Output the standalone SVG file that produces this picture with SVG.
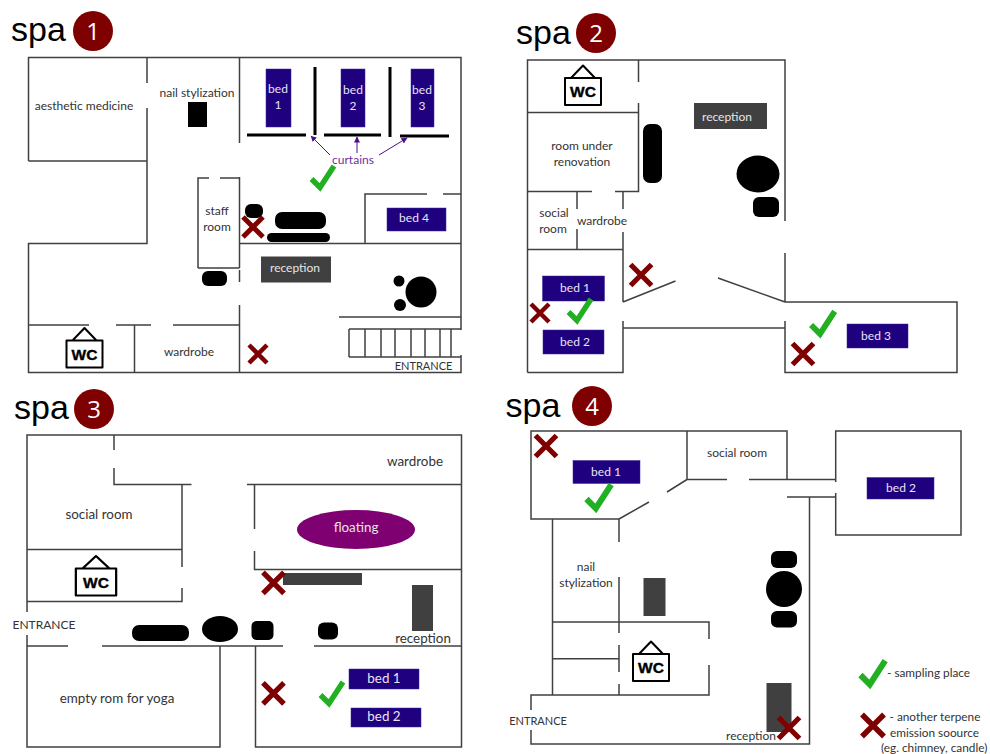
<svg xmlns="http://www.w3.org/2000/svg" width="990" height="754" viewBox="0 0 990 754">
<style>
text{font-family:"Lato","Open Sans",sans-serif;font-size:12px;fill:#333;text-anchor:middle}
.w{fill:none;stroke:#404040;stroke-width:1.5}
.k{fill:none;stroke:#000;stroke-width:3}
.bed{fill:#1f007f;stroke:#3a2a9a;stroke-width:.5}
.bt{fill:#e8e4f4}
.g{fill:#404040}
.gt{fill:#e6e6e6}
.b{fill:#000}
.title{font-family:"Liberation Sans",Arial,sans-serif;font-size:34px;fill:#000;text-anchor:start}
.num{fill:#fff;font-family:"Open Sans",sans-serif;font-size:24px}
.badge{fill:#7f0000}
.wct{font-family:"Liberation Sans",Arial,sans-serif;font-size:15.5px;font-weight:700;fill:#000;stroke:#000;stroke-width:.4}
.st{text-anchor:start;font-size:11.8px}
.l{font-size:13.4px}
.e{font-size:11px}
.ar{fill:none;stroke:#4b0f8a;stroke-width:1;marker-end:url(#a)}
</style>
<defs>
<path id="x" d="M-10,-10L10,10M10,-10L-10,10" fill="none" stroke="#7f0000" stroke-width="5"/>
<path id="c" d="M-10.5,0L-2,8.5L12,-13" fill="none" stroke="#22b022" stroke-width="5.5"/>
<path id="wc" d="M-18,-13.5H18V13.5H-18ZM-12,-13.5L0,-26L12,-13.5" fill="#fff" stroke="#000" stroke-width="2" stroke-linejoin="round"/>
<marker id="a" markerWidth="7" markerHeight="7" refX="5.5" refY="3" orient="auto" markerUnits="userSpaceOnUse"><path d="M0,0L6,3L0,6Z" fill="#4b0f8a"/></marker>
</defs>

<g id="spa1">
<text class="title" x="11" y="41">spa</text>
<circle class="badge" cx="93" cy="31" r="20"/><text class="num" x="93" y="40">1</text>
<path class="w" d="M28.5,161V57.5H461V330M461,355V372.5H28.5V243.5H147V108M147,83V57.5M28.5,161H147M239.5,57.5V143M239.5,177V268M239.5,270V282M239.5,305V372.5M198,268V178H209M220,178H239.5M198,268H239.5M239.5,243.5H461M365,243.5V194H427M443,194H461M339,317H461M28.5,325H89M116,325H151M173,325H239.5M134.5,325V372.5"/>
<path class="w" d="M349,329H461M349,357H461M349,329V357M365,329V357M381,329V357M395,329V357M411,329V357M425,329V357M440,329V357M451,329V357"/>
<path class="k" d="M315,67V135M390,67V137M247,135H306M324,135H381M400,136H449"/>
<g id="s1-beds">
<rect class="bed" x="266" y="69" width="25" height="58"/><text class="bt" x="278" y="93">bed</text><text class="bt" x="278" y="109">1</text>
<rect class="bed" x="341" y="69" width="24" height="58"/><text class="bt" x="353" y="94">bed</text><text class="bt" x="353" y="110">2</text>
<rect class="bed" x="411" y="69" width="23" height="58"/><text class="bt" x="422" y="94">bed</text><text class="bt" x="422" y="110">3</text>
<rect class="bed" x="387" y="208" width="59" height="23"/><text class="bt" x="414" y="222">bed 4</text>
</g>
<rect class="b" x="188" y="102" width="19" height="25"/>
<rect class="g" x="261" y="256.500" width="70" height="26"/><text class="gt" x="295" y="272">reception</text>
<rect class="b" x="245" y="204" width="18" height="14" rx="6"/><rect class="b" x="275" y="212" width="51" height="17" rx="7"/><rect class="b" x="267" y="233" width="63" height="9" rx="4.500"/><rect class="b" x="202" y="271" width="25" height="15" rx="6"/>
<circle class="b" cx="421" cy="292" r="15.500"/><circle class="b" cx="399" cy="281" r="5.500"/><circle class="b" cx="400" cy="305" r="6"/>
<use href="#wc" x="84.500" y="354"/><text class="wct" x="84.500" y="360">WC</text>
<text x="84" y="110">aesthetic medicine</text><text x="197" y="97">nail stylization</text><text x="217" y="215">staff</text><text x="217" y="231">room</text><text x="189" y="356">wardrobe</text><text class="e" x="423.500" y="370">ENTRANCE</text>
<text x="353" y="164" style="fill:#7030a0">curtains</text>
<path class="ar" d="M330,155L311,136"/><path class="ar" d="M357,153V137"/><path class="ar" d="M379,155L407,138"/>
<use href="#x" x="253" y="227"/><use href="#x" x="258" y="354" transform="translate(25.800 35.400) scale(.9)"/>
<use href="#c" x="322" y="179"/>
</g>

<g id="spa2">
<text class="title" x="516" y="44">spa</text>
<circle class="badge" cx="596" cy="33" r="20"/><text class="num" x="596" y="42">2</text>
<path class="w" d="M527.500,372.500V60H785V221M785,253V302H957V372.500H785V321M527.500,372.500H623V321M623,328H785M623,302V232M623,209V192M638.500,60V82M638.500,103V191.500H615M592,191.500H527.500M527.500,112.500H638.500M577,192V209M577,229V249.500M527.500,249.500H623M623,302L675.500,281M718,278L785,302"/>
<use href="#wc" x="583" y="91.500"/><text class="wct" x="583" y="97">WC</text>
<rect class="g" x="694" y="103" width="73" height="26"/><text class="gt" x="727" y="121">reception</text>
<rect class="b" x="643" y="124" width="19" height="59" rx="7"/><ellipse class="b" cx="758" cy="174" rx="21.500" ry="18.500"/><rect class="b" x="753" y="197" width="26" height="20" rx="6"/>
<rect class="bed" x="542.500" y="276" width="62" height="25"/><text class="bt" x="575" y="292">bed 1</text>
<rect class="bed" x="543" y="330" width="61" height="24"/><text class="bt" x="575" y="346">bed 2</text>
<rect class="bed" x="847" y="324" width="61" height="24"/><text class="bt" x="876" y="340">bed 3</text>
<text x="582" y="150">room under</text><text x="582" y="166">renovation</text><text x="554" y="217">social</text><text x="553" y="233">room</text><text x="602" y="225">wardrobe</text>
<use href="#x" x="540" y="313" transform="translate(54 31.300) scale(.9)"/><use href="#x" x="641" y="275" transform="translate(-32 -13.750) scale(1.050)"/><use href="#x" x="803" y="354" transform="translate(-40.150 -17.700) scale(1.050)"/>
<use href="#c" x="579" y="312"/><use href="#c" x="822" y="325" transform="translate(-41 -16.300) scale(1.050)"/>
</g>

<g id="spa3">
<text class="title" x="14" y="419">spa</text>
<circle class="badge" cx="94" cy="409" r="20"/><text class="num" x="94" y="418">3</text>
<path class="w" d="M27,612V435H461.500V747H255.500V646M27,635V747H220V646M114,435V450M114,468V484.500H191.500M247,484.500H461.500M182,484.500V567M182,588V601.500H27M27,549.500H182M254.500,484.500V529M254.500,551V569.500H461.500M27,646H68M102,646H283M314,646H461.500"/>
<use href="#wc" transform="translate(96 582) scale(1.120 1)"/><text class="wct" x="96" y="588">WC</text>
<ellipse cx="356" cy="529.500" rx="59" ry="19.500" fill="#7f0070"/><text class="gt l" x="356" y="532">floating</text>
<rect class="g" x="283" y="573" width="79" height="12"/><rect class="g" x="412" y="585" width="21" height="46"/>
<rect class="b" x="132" y="625" width="57" height="16" rx="7"/><ellipse class="b" cx="220" cy="629" rx="18" ry="13"/><rect class="b" x="251.500" y="621" width="22" height="19" rx="5"/><rect class="b" x="318" y="622.500" width="20" height="17" rx="6"/>
<rect class="bed" x="349" y="669" width="70" height="20"/><text class="bt l" x="384" y="683">bed 1</text>
<rect class="bed" x="351" y="708" width="70" height="19"/><text class="bt l" x="384" y="721">bed 2</text>
<text class="l" x="415" y="466">wardrobe</text><text class="l" x="99" y="519">social room</text><text x="44" y="629">ENTRANCE</text><text class="l" x="423" y="643">reception</text><text class="l" x="117" y="703">empty rom for yoga</text>
<use href="#x" x="273.500" y="583" transform="translate(-13.700 -29.200) scale(1.050)"/><use href="#x" x="273.500" y="693.500" transform="translate(-13.700 -34.700) scale(1.050)"/>
<use href="#c" x="331" y="695"/>
</g>

<g id="spa4">
<text class="title" x="505.500" y="417">spa</text>
<circle class="badge" cx="592" cy="406" r="20"/><text class="num" x="592" y="415">4</text>
<path class="w" d="M619,519H531V431H787V479.500M687,431V479.500H727M749,479.500H835.700M835.700,482V431H961V535H835.700V493M787,497H835.700M809.500,497V744H531V730M531,710V695H709V665M709,639V622H552.500M552.500,519V695M619,519L649,502M667,492L687,479.500M619,519V542M619,577V633M619,645V672M619,684V695M552.500,658.700H619"/>
<use href="#wc" x="651" y="667.500"/><text class="wct" x="651" y="673">WC</text>
<rect class="bed" x="573" y="460.500" width="67" height="23"/><text class="bt" x="606" y="476">bed 1</text>
<rect class="bed" x="867" y="477.500" width="67" height="21.500"/><text class="bt" x="901" y="492">bed 2</text>
<rect class="g" x="643.500" y="578" width="22" height="38"/><rect class="g" x="766.500" y="683" width="25" height="49"/>
<rect class="b" x="771" y="551" width="26" height="17" rx="6"/><circle class="b" cx="784" cy="589" r="18"/><rect class="b" x="771" y="611" width="26" height="16.500" rx="6"/>
<text x="737" y="457">social room</text><text x="586" y="571">nail</text><text x="586" y="587">stylization</text><text class="e" x="538" y="725">ENTRANCE</text><text x="751" y="740">reception</text>
<use href="#x" x="546" y="446" transform="translate(-27.300 -22.300) scale(1.050)"/><use href="#x" x="789" y="728" transform="translate(-39.450 -36.400) scale(1.050)"/>
<use href="#c" x="598" y="499" transform="translate(-59.800 -49.900) scale(1.100)"/>
</g>

<g id="legend">
<use href="#c" x="872" y="675" transform="translate(-87.200 -67.500) scale(1.100)"/>
<use href="#x" x="873" y="725.500" transform="translate(-87.300 -72.550) scale(1.100)"/>
<text class="st" x="887" y="677">- sampling place</text>
<text class="st" x="889.500" y="721">- another terpene</text>
<text class="st" x="890" y="736.500">emission soource</text>
<text class="st" x="881" y="752">(eg. chimney, candle)</text>
</g>
</svg>
